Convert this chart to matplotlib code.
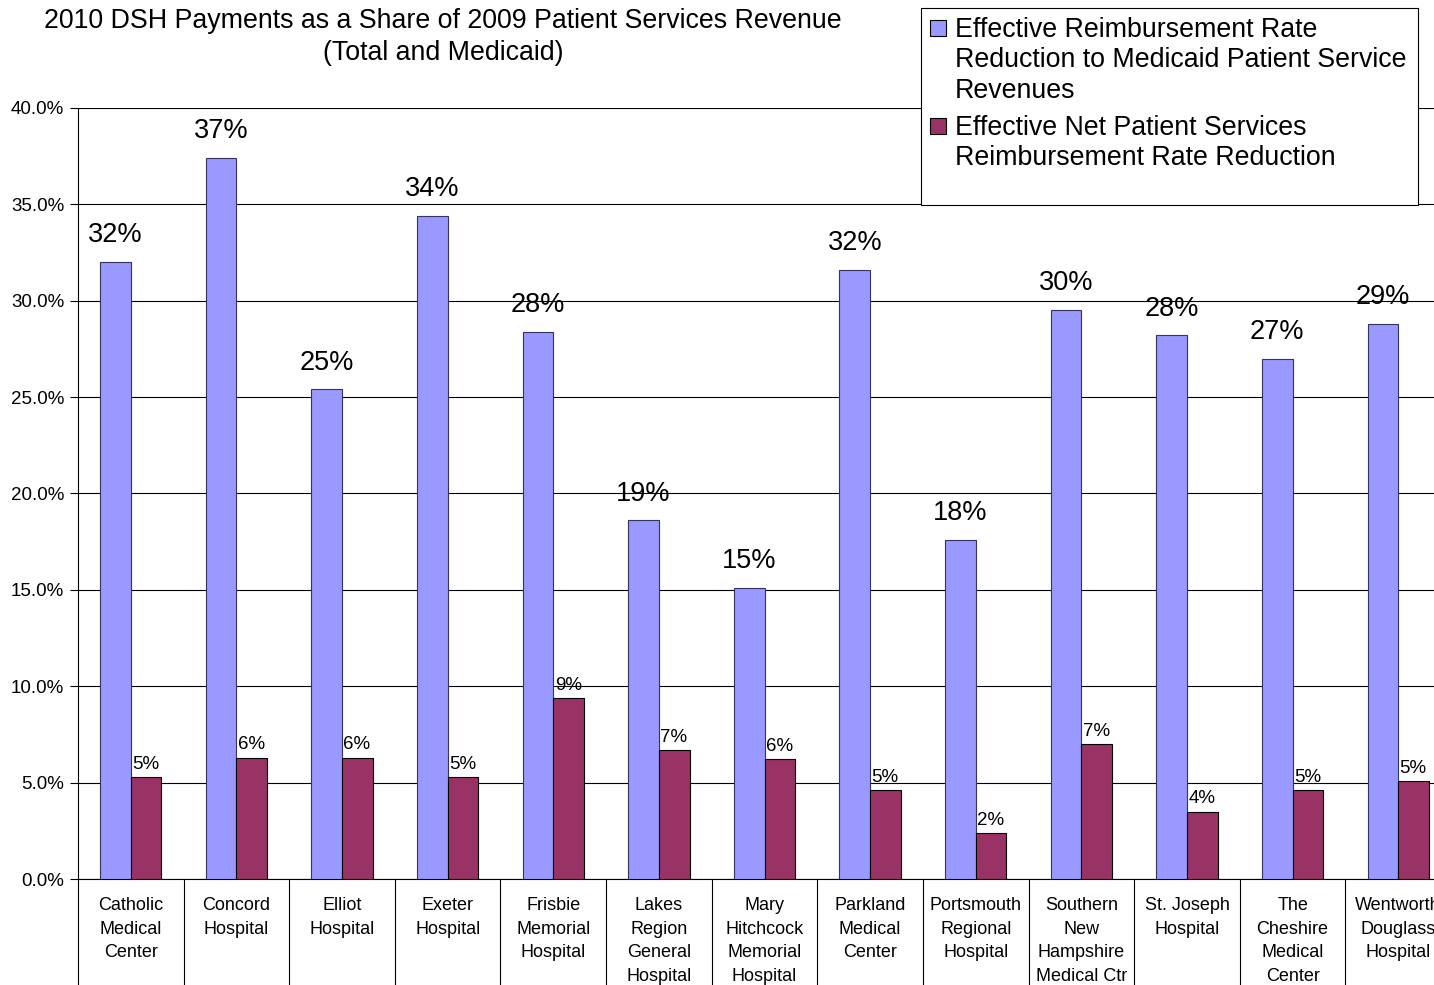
import numpy as np
import matplotlib
matplotlib.use("Agg")
import matplotlib.pyplot as plt
from matplotlib.patches import Rectangle
from matplotlib.ticker import FuncFormatter, FixedLocator

plt.rcParams['font.family'] = ['Liberation Sans', 'DejaVu Sans']

hospitals = ["Catholic\nMedical\nCenter", "Concord\nHospital", "Elliot\nHospital",
             "Exeter\nHospital", "Frisbie\nMemorial\nHospital", "Lakes\nRegion\nGeneral\nHospital",
             "Mary\nHitchcock\nMemorial\nHospital", "Parkland\nMedical\nCenter",
             "Portsmouth\nRegional\nHospital", "Southern\nNew\nHampshire\nMedical Ctr",
             "St. Joseph\nHospital", "The\nCheshire\nMedical\nCenter", "Wentworth\nDouglass\nHospital"]
medicaid = [32.0, 37.4, 25.4, 34.4, 28.4, 18.6, 15.1, 31.6, 17.6, 29.5, 28.2, 27.0, 28.8]
net_patient = [5.3, 6.3, 6.3, 5.3, 9.4, 6.7, 6.2, 4.6, 2.4, 7.0, 3.5, 4.6, 5.1]

lbl_medicaid = "Effective Reimbursement Rate\nReduction to Medicaid Patient Service\nRevenues"
lbl_net = "Effective Net Patient Services\nReimbursement Rate Reduction"

blue = "#9999FF"
red = "#993366"

fig = plt.figure(figsize=(14.34, 9.85), dpi=100)
# axes runs a bit past the right edge, like the original screenshot
ax = fig.add_axes([78/1434, 1-879/985, 1373/1434, 771/985])

x = np.arange(len(hospitals))
w = 0.29
b1 = ax.bar(x - w/2, medicaid, w, color=blue, edgecolor="#333366", linewidth=0.8, zorder=3)
b2 = ax.bar(x + w/2, net_patient, w, color=red, edgecolor="black", linewidth=0.8, zorder=3)

for i in range(len(x)):
    ax.annotate("%d%%" % round(medicaid[i]), (x[i] - w/2, medicaid[i]),
                xytext=(0, 10), textcoords="offset points", ha="center", va="bottom",
                fontsize=19.5)
    ax.annotate("%d%%" % round(net_patient[i]), (x[i], net_patient[i]),
                xytext=(1, 3), textcoords="offset points", ha="left", va="bottom",
                fontsize=13.5)

ax.set_ylim(0, 40)
ax.set_xlim(-0.5, len(x) - 0.5)
ax.set_yticks(np.arange(0, 40.1, 5))
ax.yaxis.set_major_formatter(FuncFormatter(lambda v, p: "%.1f%%" % v))
ax.tick_params(axis="y", labelsize=13.5, length=6, width=0.8, pad=4)
ax.grid(axis="y", color="black", linewidth=0.8, zorder=0)
ax.set_axisbelow(True)

ax.set_xticks(x)
ax.set_xticklabels(hospitals, fontsize=13, linespacing=1.5, va="top")
ax.tick_params(axis="x", which="major", length=0, pad=13)
ax.xaxis.set_minor_locator(FixedLocator(np.arange(-0.5, len(x), 1)))
ax.tick_params(axis="x", which="minor", length=80, width=0.8)

for s in ["top", "right"]:
    ax.spines[s].set_visible(False)
ax.spines["left"].set_linewidth(0.8)
ax.spines["bottom"].set_linewidth(0.8)

fig.text(443/1434, 1-21/985, "2010 DSH Payments as a Share of 2009 Patient Services Revenue",
         ha="center", va="center", fontsize=19.3)
fig.text(443/1434, 1-53/985, "(Total and Medicaid)", ha="center", va="center", fontsize=19.3)

# legend box drawn by hand so the swatches sit on the first text line
W, H = 1434.0, 985.0
fig.patches.append(Rectangle((921/W, 1-205/H), 497/W, 197/H, transform=fig.transFigure,
                             facecolor="white", edgecolor="black", linewidth=0.8, zorder=5))
for ytop, col, lbl in [(19, blue, lbl_medicaid), (117, red, lbl_net)]:
    fig.patches.append(Rectangle((930/W, 1-(ytop+17)/H), 16/W, 16/H, transform=fig.transFigure,
                                 facecolor=col, edgecolor="black", linewidth=0.8, zorder=6))
    fig.text(955/W, 1-(ytop-2)/H, lbl, ha="left", va="top", fontsize=19.3,
             linespacing=1.22, zorder=6)

fig.savefig("out.png", dpi=100)
